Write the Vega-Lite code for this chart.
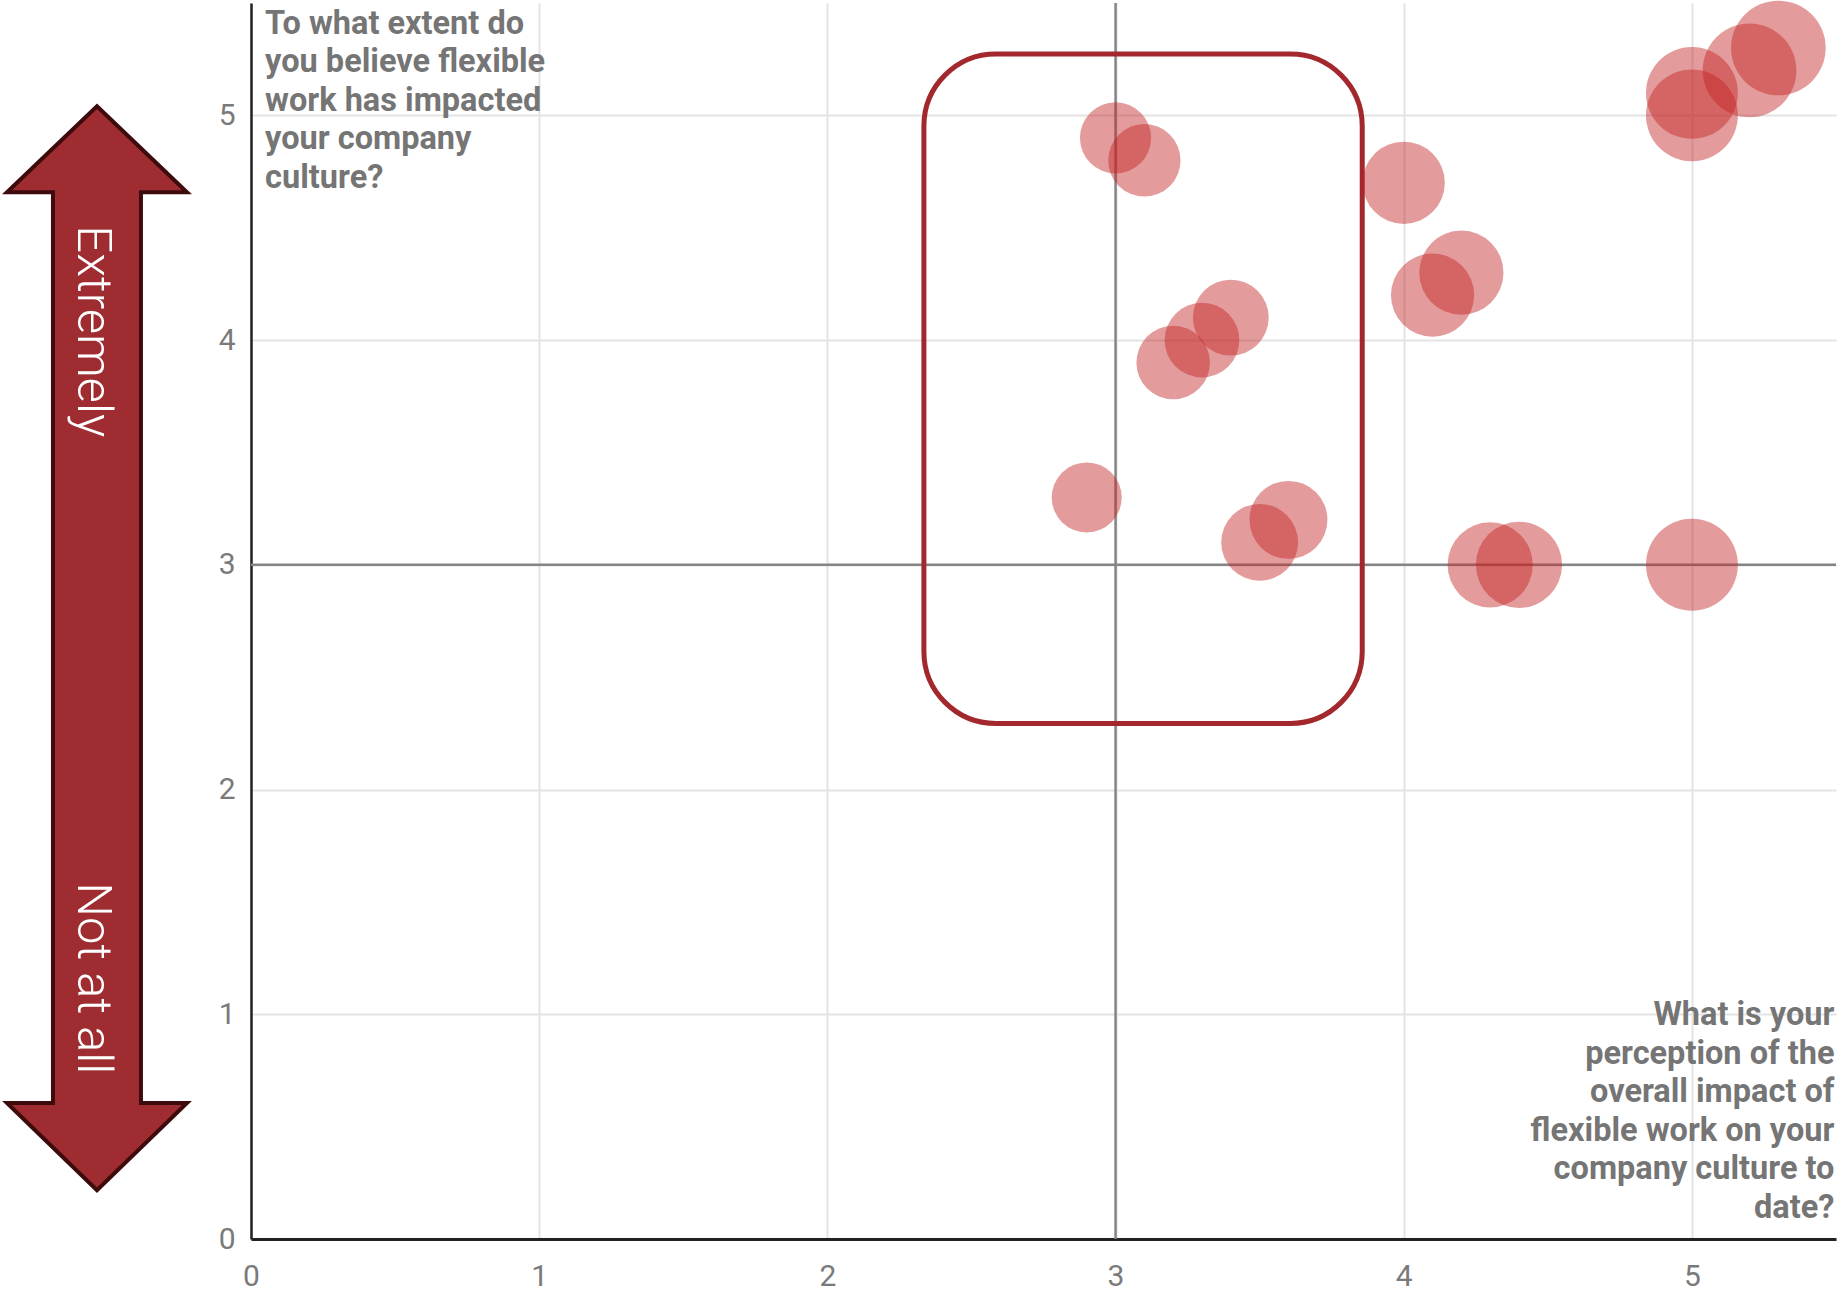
{
  "$schema": "https://vega.github.io/schema/vega-lite/v6.json",
  "width": 1585,
  "height": 1236,
  "autosize": {"type": "none"},
  "padding": {"left": 251, "top": 3, "right": 2, "bottom": 52},
  "background": "white",
  "config": {
    "view": {"stroke": null},
    "font": "Roboto",
    "axis": {
      "grid": true,
      "gridColor": "#e3e3e3",
      "gridWidth": 2,
      "domainColor": "#222222",
      "ticks": false,
      "labelFont": "Roboto",
      "labelFontSize": 30,
      "labelColor": "#7a7a7a",
      "labelFlush": false,
      "labelOverlap": false,
      "format": "d"
    }
  },
  "datasets": {
    "responses": [
      {"perception": 3.0, "culture_impact": 4.9},
      {"perception": 3.1, "culture_impact": 4.8},
      {"perception": 4.0, "culture_impact": 4.7},
      {"perception": 4.1, "culture_impact": 4.2},
      {"perception": 4.2, "culture_impact": 4.3},
      {"perception": 3.2, "culture_impact": 3.9},
      {"perception": 3.3, "culture_impact": 4.0},
      {"perception": 3.4, "culture_impact": 4.1},
      {"perception": 2.9, "culture_impact": 3.3},
      {"perception": 3.5, "culture_impact": 3.1},
      {"perception": 3.6, "culture_impact": 3.2},
      {"perception": 4.3, "culture_impact": 3.0},
      {"perception": 4.4, "culture_impact": 3.0},
      {"perception": 5.0, "culture_impact": 3.0},
      {"perception": 5.0, "culture_impact": 5.0},
      {"perception": 5.0, "culture_impact": 5.1},
      {"perception": 5.2, "culture_impact": 5.2},
      {"perception": 5.3, "culture_impact": 5.3}
    ],
    "annotation": [{}]
  },
  "layer": [
    {
      "data": {"name": "annotation"},
      "mark": {"type": "rule", "color": "#858585", "strokeWidth": 2.5},
      "encoding": {
        "x": {
          "datum": 3,
          "type": "quantitative",
          "title": null,
          "scale": {"domain": [0, 5.5], "nice": false, "zero": false},
          "axis": {"values": [0, 1, 2, 3, 4, 5], "labelPadding": 22, "domainWidth": 3}
        }
      }
    },
    {
      "data": {"name": "annotation"},
      "mark": {"type": "rule", "color": "#858585", "strokeWidth": 2.5},
      "encoding": {
        "y": {
          "datum": 3,
          "type": "quantitative",
          "title": null,
          "scale": {"domain": [0, 5.5], "nice": false, "zero": false},
          "axis": {"values": [0, 1, 2, 3, 4, 5], "labelPadding": 16, "domainWidth": 2.5}
        }
      }
    },
    {
      "data": {"name": "annotation"},
      "mark": {"type": "rect", "filled": false, "fill": null, "stroke": "#a3282d", "strokeWidth": 5, "cornerRadius": 72},
      "encoding": {
        "x": {"datum": 2.335, "type": "quantitative"},
        "x2": {"datum": 3.856},
        "y": {"datum": 5.273, "type": "quantitative"},
        "y2": {"datum": 2.294}
      }
    },
    {
      "data": {"name": "responses"},
      "mark": {"type": "point", "filled": true, "shape": "circle", "opacity": 0.45, "color": "#c42222", "strokeWidth": 0},
      "encoding": {
        "x": {"field": "perception", "type": "quantitative", "title": null},
        "y": {"field": "culture_impact", "type": "quantitative", "title": null},
        "size": {
          "field": "perception",
          "type": "quantitative",
          "legend": null,
          "scale": {"type": "linear", "domain": [2.9, 5.3], "range": [4900, 8950], "zero": false}
        }
      }
    },
    {
      "data": {"name": "annotation"},
      "mark": {
        "type": "point",
        "filled": true,
        "clip": false,
        "shape": "M0,-5.42 L0.9,-4.56 L0.44,-4.56 L0.44,4.547 L0.9,4.547 L0,5.42 L-0.9,4.547 L-0.44,4.547 L-0.44,-4.56 L-0.9,-4.56 Z",
        "size": 40000,
        "fill": "#9e2c30",
        "stroke": "#3e0b0d",
        "strokeWidth": 4,
        "strokeJoin": "miter",
        "opacity": 1,
        "fillOpacity": 1
      },
      "encoding": {
        "x": {"datum": -0.5345, "type": "quantitative"},
        "y": {"datum": 2.629, "type": "quantitative"}
      }
    },
    {
      "data": {"name": "annotation"},
      "mark": {"type": "text", "text": "Extremely", "angle": 90, "align": "left", "baseline": "middle", "fontSize": 49, "fontWeight": 300, "fill": "white", "clip": false},
      "encoding": {
        "x": {"datum": -0.5475, "type": "quantitative"},
        "y": {"datum": 4.511, "type": "quantitative"}
      }
    },
    {
      "data": {"name": "annotation"},
      "mark": {"type": "text", "text": "Not at all", "angle": 90, "align": "left", "baseline": "middle", "fontSize": 49, "fontWeight": 300, "fill": "white", "clip": false},
      "encoding": {
        "x": {"datum": -0.5475, "type": "quantitative"},
        "y": {"datum": 1.588, "type": "quantitative"}
      }
    },
    {
      "data": {"name": "annotation"},
      "mark": {
        "type": "text",
        "text": ["To what extent do", "you believe flexible", "work has impacted", "your company", "culture?"],
        "align": "left",
        "baseline": "top",
        "fontSize": 32.5,
        "fontWeight": "bold",
        "lineHeight": 38.5,
        "fill": "#757575"
      },
      "encoding": {
        "x": {"datum": 0.049, "type": "quantitative"},
        "y": {"datum": 5.478, "type": "quantitative"}
      }
    },
    {
      "data": {"name": "annotation"},
      "mark": {
        "type": "text",
        "text": ["What is your", "perception of the", "overall impact of", "flexible work on your", "company culture to", "date?"],
        "align": "right",
        "baseline": "alphabetic",
        "fontSize": 32.5,
        "fontWeight": "bold",
        "lineHeight": 38.5,
        "fill": "#757575"
      },
      "encoding": {
        "x": {"datum": 5.4946, "type": "quantitative"},
        "y": {"datum": 0.952, "type": "quantitative"}
      }
    }
  ]
}
